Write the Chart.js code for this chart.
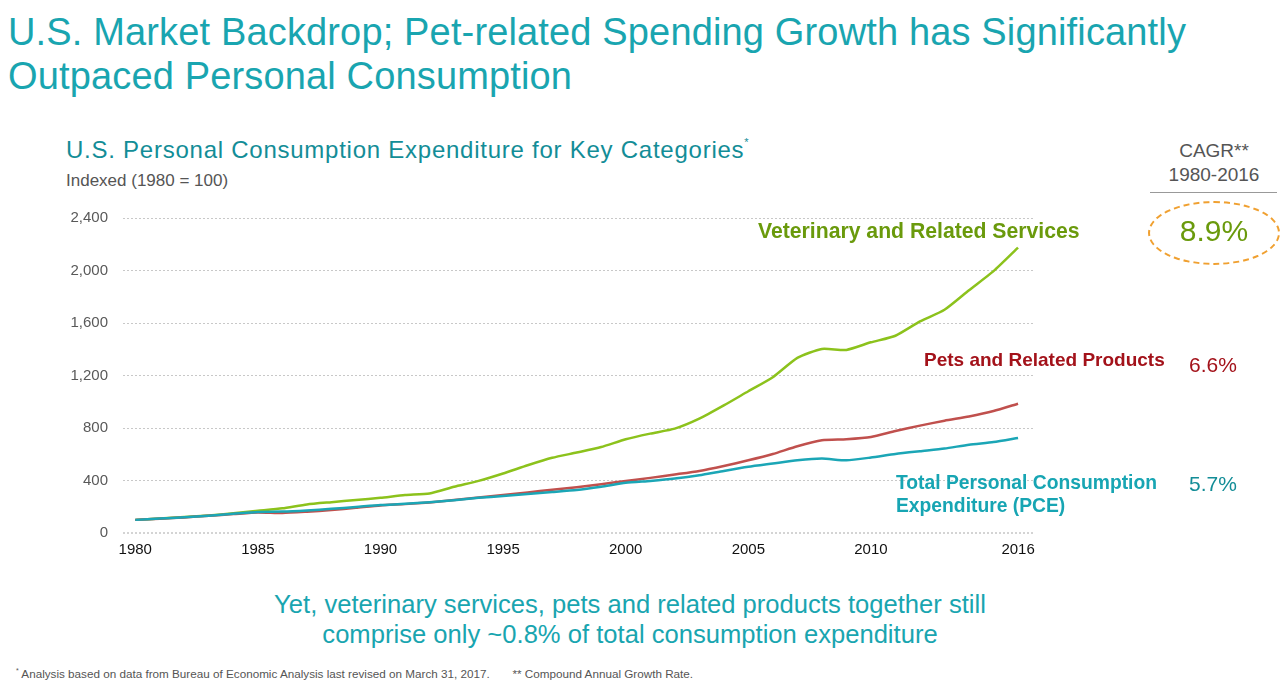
<!DOCTYPE html>
<html>
<head>
<meta charset="utf-8">
<script src="https://cdn.jsdelivr.net/npm/chart.js@4"></script>
<style>
  body { margin: 0; width: 1286px; height: 682px; background: #fff; position: relative; overflow: hidden;
         font-family: "Liberation Sans", Arial, sans-serif; }
  .abs { position: absolute; white-space: nowrap; }
  #title { left: 8px; top: 10px; font-size: 38px; letter-spacing: 0.15px; line-height: 44px; color: #19a5b0; }
  #sub { left: 66px; top: 136px; font-size: 24px; letter-spacing: 0.75px; color: #138d97; }
  #sub sup { font-size: 11px; vertical-align: 12px; }
  #idx { left: 66px; top: 171px; font-size: 17px; color: #555; }
  #chartBox { position: absolute; left: 0; top: 194px; width: 1286px; height: 376px; }
  .lbl { font-weight: bold; }
  #cagrHead { left: 1150px; top: 139px; width: 128px; text-align: center; font-size: 19px; line-height: 24px; color: #555; }
  #cagrRule { left: 1150px; top: 192px; width: 127px; height: 0; border-top: 1.5px solid #999; }
  #oval { left: 1148px; top: 201px; width: 128px; height: 60px; border: 2px dashed #f0a030; border-radius: 50%; }
  #bottom { left: 0; width: 1260px; top: 589px; text-align: center; font-size: 25.6px; line-height: 30px; color: #19a5b0; }
  #foot { left: 16px; top: 667px; font-size: 11.7px; color: #555; }
  #foot sup { font-size: 7px; }
</style>
</head>
<body>
<div id="title" class="abs">U.S. Market Backdrop; Pet-related Spending Growth has Significantly<br>Outpaced Personal Consumption</div>
<div id="sub" class="abs">U.S. Personal Consumption Expenditure for Key Categories<sup>*</sup></div>
<div id="idx" class="abs">Indexed (1980 = 100)</div>

<div id="chartBox"><canvas id="pceChart"></canvas></div>

<div class="abs lbl" style="left:758px; top:219px; font-size:21.2px; color:#6a9a0c;">Veterinary and Related Services</div>
<div class="abs lbl" style="left:924px; top:349px; font-size:19px; color:#a3121a;">Pets and Related Products</div>
<div class="abs lbl" style="left:896px; top:471px; font-size:19.3px; line-height:23px; color:#17a5b3;">Total Personal Consumption<br>Expenditure (PCE)</div>

<div id="cagrHead" class="abs">CAGR**<br>1980-2016</div>
<div id="cagrRule" class="abs"></div>
<div id="oval" class="abs"></div>
<div class="abs" style="left:1148px; top:214px; width:132px; text-align:center; font-size:30px; color:#6a9a0c;">8.9%</div>
<div class="abs" style="left:1189px; top:353px; font-size:21px; color:#a3121a;">6.6%</div>
<div class="abs" style="left:1189px; top:472px; font-size:21px; color:#138d97;">5.7%</div>

<div id="bottom" class="abs">Yet, veterinary services, pets and related products together still<br>comprise only ~0.8% of total consumption expenditure</div>
<div id="foot" class="abs"><sup>*</sup> Analysis based on data from Bureau of Economic Analysis last revised on March 31, 2017.&nbsp;&nbsp;&nbsp;&nbsp;&nbsp;&nbsp; ** Compound Annual Growth Rate.</div>

<script>
  const years = [1980, 1981, 1982, 1983, 1984, 1985, 1986, 1987, 1988, 1989,
                 1990, 1991, 1992, 1993, 1994, 1995, 1996, 1997, 1998, 1999,
                 2000, 2001, 2002, 2003, 2004, 2005, 2006, 2007, 2008, 2009,
                 2010, 2011, 2012, 2013, 2014, 2015, 2016];

  // Veterinary and related services
  const vetValues = [100, 111, 121, 134, 150, 169, 188, 218, 235, 251,
                     268, 289, 301, 352, 397, 453, 516, 573, 613, 655,
                     714, 757, 795, 871, 972, 1080, 1187, 1334, 1402, 1395,
                     1453, 1503, 1612, 1701, 1850, 1995, 2174];

  // Pets and related products
  const petValues = [100, 109, 119, 131, 144, 157, 152, 162, 175, 192,
                     210, 220, 233, 251, 271, 289, 309, 330, 349, 372,
                     397, 420, 446, 473, 511, 554, 602, 661, 706, 714,
                     731, 777, 818, 856, 888, 929, 985];

  // Total personal consumption expenditure
  const pceValues = [100, 110, 120, 132, 146, 160, 163, 172, 184, 198,
                     213, 222, 235, 250, 268, 282, 298, 312, 327, 352,
                     382, 397, 415, 440, 473, 504, 529, 554, 567, 554,
                     575, 602, 623, 643, 673, 693, 724];

  const xTicks = [1980, 1985, 1990, 1995, 2000, 2005, 2010, 2016];
  const yTicks = [0, 400, 800, 1200, 1600, 2000, 2400];

  const toPoints = vals => vals.map((v, i) => ({ x: years[i], y: v }));

  const ctx = document.getElementById("pceChart").getContext("2d");
  new Chart(ctx, {
    type: 'line',
    data: {
      datasets: [
        { label: 'Total PCE', data: toPoints(pceValues), borderColor: '#1ba6b6', borderWidth: 2.5 },
        { label: 'Pets and Related Products', data: toPoints(petValues), borderColor: '#c0504d', borderWidth: 2.5 },
        { label: 'Veterinary and Related Services', data: toPoints(vetValues), borderColor: '#8cc21c', borderWidth: 2.5 }
      ]
    },
    options: {
      responsive: true,
      maintainAspectRatio: false,
      animation: false,
      elements: { point: { radius: 0 }, line: { tension: 0.2 } },
      layout: { padding: { left: 0, right: 252, top: 11, bottom: 0 } },
      plugins: { legend: { display: false }, tooltip: { enabled: false } },
      scales: {
        x: {
          type: 'linear',
          min: 1979.5,
          max: 2016.65,
          afterBuildTicks: scale => { scale.ticks = xTicks.map(v => ({ value: v })); },
          afterFit: scale => { scale.height = 37; },
          ticks: {
            autoSkip: false,
            maxRotation: 0,
            padding: 8,
            color: '#111',
            font: { family: 'Liberation Sans', size: 15 },
            callback: v => String(v)
          },
          grid: { display: false, drawTicks: false },
          border: { display: false }
        },
        y: {
          min: 0,
          max: 2400,
          afterBuildTicks: scale => { scale.ticks = yTicks.map(v => ({ value: v })); },
          afterFit: scale => { scale.width = 123; },
          ticks: {
            padding: 15,
            color: '#595959',
            font: { family: 'Liberation Sans', size: 15 },
            callback: v => v.toLocaleString('en-US')
          },
          grid: { color: ctx => ctx.tick.value === 0 ? '#d4d4d4' : '#c8c8c8', lineWidth: ctx => ctx.tick.value === 0 ? 2 : 1, drawTicks: false },
          border: { display: false, dash: [2, 2] }
        }
      }
    }
  });
</script>
</body>
</html>
